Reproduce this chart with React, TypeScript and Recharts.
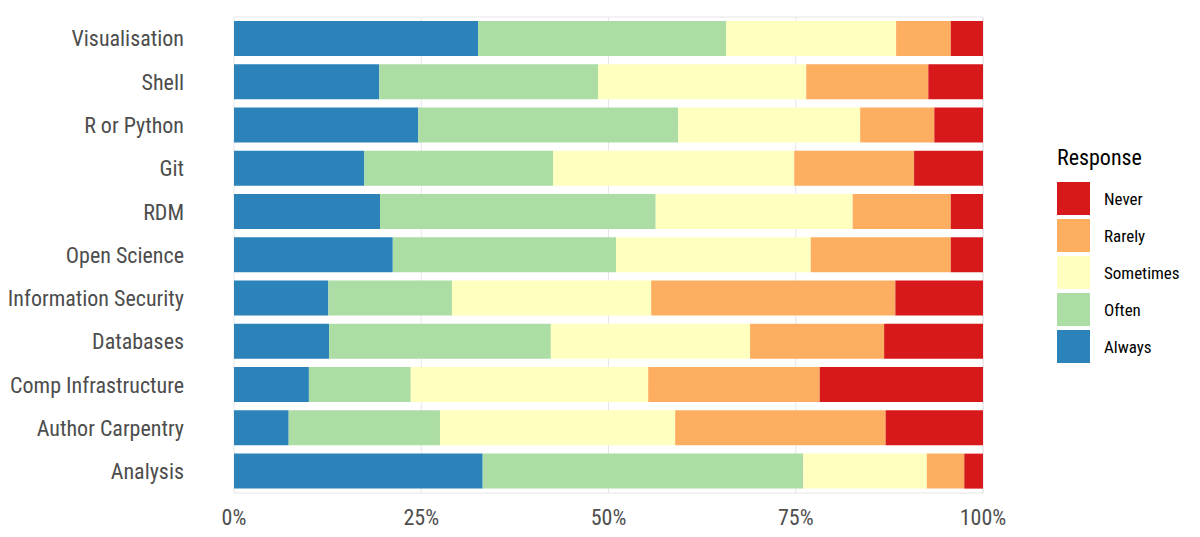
import { BarChart, Bar, XAxis, YAxis, CartesianGrid } from "recharts";

const categories = [
  "Visualisation", "Shell", "R or Python", "Git", "RDM", "Open Science",
  "Information Security", "Databases", "Comp Infrastructure", "Author Carpentry", "Analysis",
];
const always = [32.6, 19.4, 24.6, 17.4, 19.5, 21.2, 12.6, 12.7, 10.0, 7.3, 33.2];
const often = [33.1, 29.2, 34.7, 25.2, 36.8, 29.8, 16.5, 29.6, 13.6, 20.2, 42.8];
const sometimes = [22.7, 27.8, 24.3, 32.2, 26.3, 26.0, 26.6, 26.6, 31.7, 31.4, 16.5];
const rarely = [7.3, 16.3, 9.9, 16.0, 13.1, 18.7, 32.6, 17.9, 22.9, 28.1, 5.0];
const never = [4.3, 7.3, 6.5, 9.2, 4.3, 4.3, 11.7, 13.2, 21.8, 13.0, 2.5];
const xTicks = [0, 25, 50, 75, 100];

const series = [
  { key: "Always", values: always, color: "#2b83ba" },
  { key: "Often", values: often, color: "#abdda4" },
  { key: "Sometimes", values: sometimes, color: "#ffffbf" },
  { key: "Rarely", values: rarely, color: "#fdae61" },
  { key: "Never", values: never, color: "#d7191c" },
];

const data = categories.map((name, i) => {
  const row: Record<string, string | number> = { name };
  series.forEach((s) => (row[s.key] = s.values[i]));
  return row;
});

const font = "'Liberation Sans Narrow', 'Roboto Condensed', Roboto, sans-serif";

export default function App() {
  return (
    <div style={{ position: "absolute", left: 0, top: 0, width: 1200, height: 537, background: "#fff", fontFamily: font }}>
      <BarChart
        width={1200}
        height={537}
        data={data}
        layout="vertical"
        barCategoryGap="9%"
        margin={{ top: 17, right: 217, left: 0, bottom: 12 }}
      >
        <CartesianGrid stroke="#e6e6e6" />
        <XAxis
          type="number"
          domain={[0, 100]}
          ticks={xTicks}
          tickFormatter={(v) => `${v}%`}
          axisLine={false}
          tickLine={false}
          height={32}
          tick={{ fontSize: 22, fill: "#4d4d4d", fontFamily: font }}
          tickMargin={10}
        />
        <YAxis
          type="category"
          dataKey="name"
          width={234}
          axisLine={false}
          tickLine={false}
          tick={{ fontSize: 22, fill: "#4d4d4d", fontFamily: font }}
          tickMargin={44}
        />
        {series.map((s) => (
          <Bar key={s.key} dataKey={s.key} stackId="a" fill={s.color} isAnimationActive={false} />
        ))}
      </BarChart>
      <div style={{ position: "absolute", left: 1057, top: 145 }}>
        <div style={{ fontSize: 22, color: "#000", marginBottom: 10 }}>Response</div>
        {[...series].reverse().map((s) => (
          <div key={s.key} style={{ display: "flex", alignItems: "center", height: 37 }}>
            <div style={{ width: 33, height: 33, background: s.color, marginRight: 14 }} />
            <span style={{ fontSize: 17, color: "#000" }}>{s.key}</span>
          </div>
        ))}
      </div>
    </div>
  );
}
